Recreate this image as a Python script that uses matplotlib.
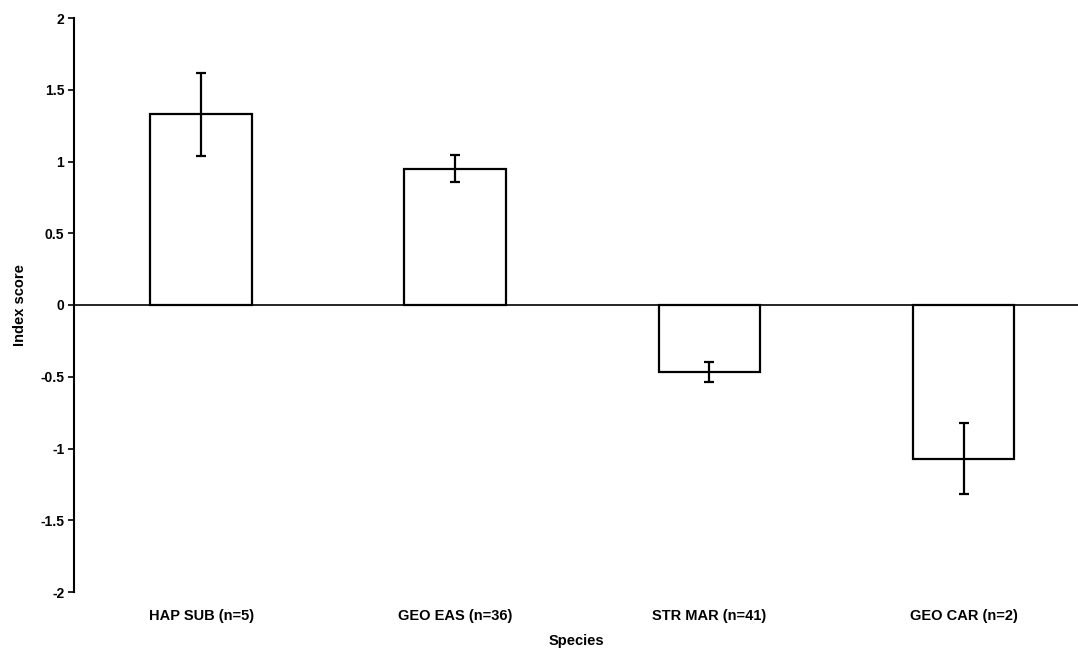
import matplotlib
matplotlib.use("Agg")
import matplotlib.pyplot as plt
import numpy as np

species = ['HAP SUB (n=5)', 'GEO EAS (n=36)', 'STR MAR (n=41)', 'GEO CAR (n=2)']
index_score = [1.33, 0.95, -0.47, -1.07]
score_err = [0.29, 0.095, 0.07, 0.25]
y_ticks = [-2, -1.5, -1, -0.5, 0, 0.5, 1, 1.5, 2]
y_tick_labels = ['-2', '-1.5', '-1', '-0.5', '0', '0.5', '1', '1.5', '2']

plt.rcParams['font.family'] = ['Liberation Sans', 'DejaVu Sans']
plt.rcParams['font.weight'] = 'bold'

fig = plt.figure(figsize=(10.78, 6.52), dpi=100)
ax = fig.add_axes([74 / 1078, 60 / 652, 1 - 74 / 1078, (592 - 18) / 652])

x = np.arange(len(species))
ax.bar(x, index_score, width=0.4, color='white', edgecolor='black', linewidth=1.6,
       yerr=score_err, capsize=3.6,
       error_kw={'elinewidth': 1.6, 'capthick': 1.6, 'ecolor': 'black'}, zorder=2)
ax.axhline(0, color='black', linewidth=1.2, zorder=1)

ax.set_xlim(-0.5, 3.45)
ax.set_ylim(-2, 2)
ax.set_yticks(y_ticks)
ax.set_yticklabels(y_tick_labels, fontsize=10, fontweight='bold')
ax.set_xticks(x)
ax.set_xticklabels(species, fontsize=10.5, fontweight='bold')
ax.tick_params(axis='x', length=0, pad=12.5)
ax.tick_params(axis='y', direction='out', length=4, width=1.2, pad=3)

for s in ['top', 'right', 'bottom']:
    ax.spines[s].set_visible(False)
ax.spines['left'].set_linewidth(1.5)

ax.set_xlabel('Species', fontsize=10.5, fontweight='bold', labelpad=8)
ax.set_ylabel('Index score', fontsize=10.5, fontweight='bold', labelpad=9.5)

fig.savefig('out.png', dpi=100)
